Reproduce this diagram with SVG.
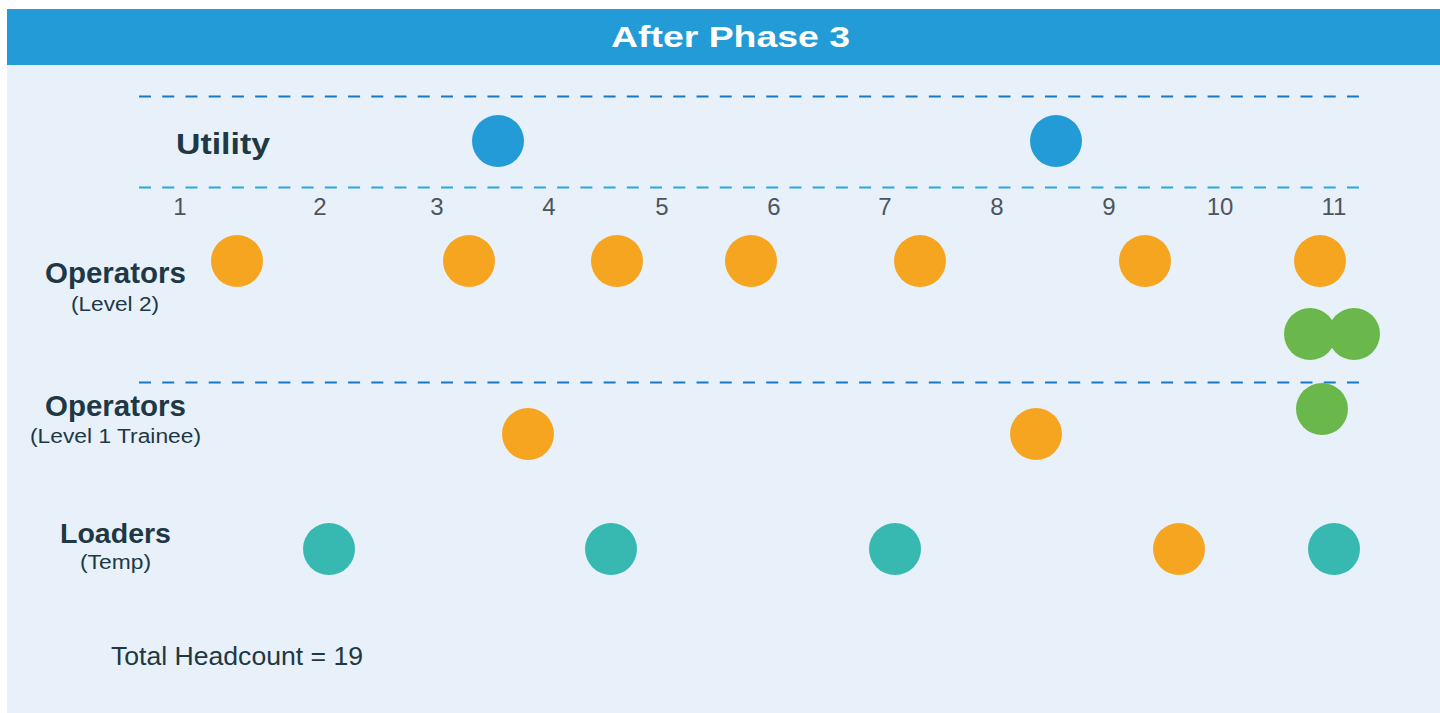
<svg xmlns="http://www.w3.org/2000/svg" width="1440" height="713" viewBox="0 0 1440 713">
  <style>
    .lbl { font-family: "Liberation Sans", Arial, sans-serif; font-weight: bold; fill: #1e3845; text-anchor: start; }
    .sub { font-family: "Liberation Sans", Arial, sans-serif; fill: #1e3845; font-size: 20px; }
    .num { font-family: "Liberation Sans", Arial, sans-serif; fill: #4b555d; font-size: 24px; text-anchor: middle; }
    .dash { stroke-width: 2; stroke-dasharray: 12 11.23; fill: none; }
    .blue { fill: #239bd6; }
    .orange { fill: #f6a521; }
    .green { fill: #6ab84b; }
    .teal { fill: #37b8b1; }
  </style>

  <!-- panel -->
  <rect x="0" y="0" width="1440" height="713" fill="#ffffff"/>
  <rect x="7" y="65" width="1433" height="648" fill="#e8f1f9"/>
  <rect x="7" y="9" width="1433" height="56" fill="#239bd6"/>
  <text x="730.5" y="47" text-anchor="middle" font-family="'Liberation Sans', Arial, sans-serif" font-weight="bold" font-size="29" fill="#ffffff" textLength="239" lengthAdjust="spacingAndGlyphs">After Phase 3</text>

  <!-- row separators -->
  <g id="separators">
    <line class="dash" x1="139" y1="96.5" x2="1359" y2="96.5" stroke="#1778c6"/>
    <line class="dash" x1="139" y1="187.5" x2="1359" y2="187.5" stroke="#2ba6e0"/>
    <line class="dash" x1="139" y1="382.5" x2="1359" y2="382.5" stroke="#1778c6"/>
  </g>

  <!-- row labels -->
  <g id="row-labels">
    <text class="lbl" x="176" y="154" font-size="29" textLength="94" lengthAdjust="spacingAndGlyphs">Utility</text>
    <text class="lbl" x="45" y="283" font-size="29" textLength="141" lengthAdjust="spacingAndGlyphs">Operators</text>
    <text class="sub" x="71" y="311" textLength="88" lengthAdjust="spacingAndGlyphs">(Level 2)</text>
    <text class="lbl" x="45" y="416" font-size="29" textLength="141" lengthAdjust="spacingAndGlyphs">Operators</text>
    <text class="sub" x="30" y="443" textLength="171" lengthAdjust="spacingAndGlyphs">(Level 1 Trainee)</text>
    <text class="lbl" x="60" y="543" font-size="28" textLength="111" lengthAdjust="spacingAndGlyphs">Loaders</text>
    <text class="sub" x="80" y="569" textLength="71" lengthAdjust="spacingAndGlyphs">(Temp)</text>
  </g>

  <!-- position numbers -->
  <g id="positions">
    <text class="num" x="180" y="215">1</text>
    <text class="num" x="320" y="215">2</text>
    <text class="num" x="437" y="215">3</text>
    <text class="num" x="549" y="215">4</text>
    <text class="num" x="662" y="215">5</text>
    <text class="num" x="774" y="215">6</text>
    <text class="num" x="885" y="215">7</text>
    <text class="num" x="997" y="215">8</text>
    <text class="num" x="1109" y="215">9</text>
    <text class="num" x="1220" y="215">10</text>
    <text class="num" x="1334" y="215">11</text>
  </g>

  <!-- staff markers -->
  <g id="utility">
    <circle class="blue" cx="498" cy="141" r="26"/>
    <circle class="blue" cx="1056" cy="141" r="26"/>
  </g>
  <g id="operators-level2">
    <circle class="orange" cx="237" cy="261" r="26"/>
    <circle class="orange" cx="469" cy="261" r="26"/>
    <circle class="orange" cx="617" cy="261" r="26"/>
    <circle class="orange" cx="751" cy="261" r="26"/>
    <circle class="orange" cx="920" cy="261" r="26"/>
    <circle class="orange" cx="1145" cy="261" r="26"/>
    <circle class="orange" cx="1320" cy="261" r="26"/>
    <circle class="green" cx="1310" cy="334" r="26"/>
    <circle class="green" cx="1354" cy="334" r="26"/>
  </g>
  <g id="operators-level1">
    <circle class="green" cx="1322" cy="409" r="26"/>
    <circle class="orange" cx="528" cy="434" r="26"/>
    <circle class="orange" cx="1036" cy="434" r="26"/>
  </g>
  <g id="loaders">
    <circle class="teal" cx="329" cy="549" r="26"/>
    <circle class="teal" cx="611" cy="549" r="26"/>
    <circle class="teal" cx="895" cy="549" r="26"/>
    <circle class="orange" cx="1179" cy="549" r="26"/>
    <circle class="teal" cx="1334" cy="549" r="26"/>
  </g>

  <g id="total">
    <text x="111" y="665" font-family="'Liberation Sans', Arial, sans-serif" font-size="25" fill="#1e3845" textLength="252" lengthAdjust="spacingAndGlyphs">Total Headcount = 19</text>
  </g>
</svg>
